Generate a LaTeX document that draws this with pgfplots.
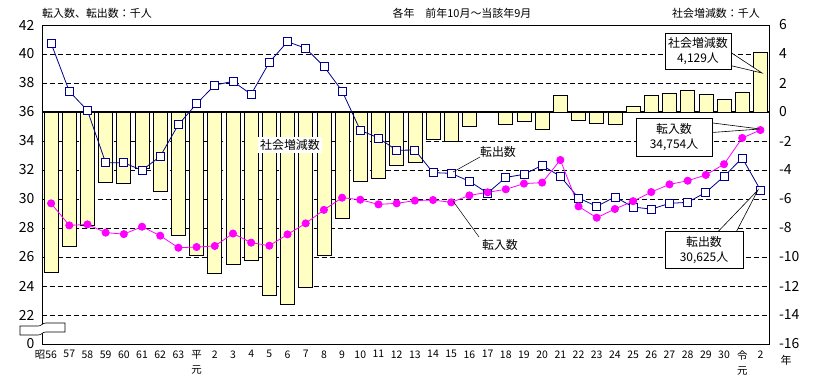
\documentclass[border=0pt]{standalone}
\usepackage{fontspec}
\setmainfont{Noto Sans CJK JP}
\usepackage{pgfplots}
\usepackage{pgfplotstable}
\pgfplotsset{compat=1.18}
\usetikzlibrary{calc}
\definecolor{barfill}{RGB}{255,255,196}
\definecolor{outc}{RGB}{0,0,140}
\definecolor{inc}{RGB}{255,0,255}

\pgfplotstableread{
x out in net
0 40.74 29.70 -11.05
1 37.43 28.18 -9.25
2 36.10 28.25 -7.85
3 32.50 27.68 -4.82
4 32.50 27.58 -4.92
5 31.98 28.09 -3.89
6 32.94 27.47 -5.47
7 35.13 26.64 -8.49
8 36.57 26.69 -9.88
9 37.86 26.76 -11.10
10 38.11 27.62 -10.49
11 37.22 26.99 -10.23
12 39.43 26.78 -12.65
13 40.85 27.56 -13.29
14 40.39 28.32 -12.07
15 39.15 29.25 -9.90
16 37.45 30.09 -7.36
17 34.74 29.95 -4.79
18 34.21 29.63 -4.58
19 33.36 29.70 -3.66
20 33.38 29.89 -3.49
21 31.82 29.93 -1.89
22 31.77 29.77 -2.00
23 31.22 30.25 -0.97
24 30.41 30.46 0.05
25 31.49 30.67 -0.82
26 31.70 31.06 -0.64
27 32.32 31.13 -1.19
28 31.56 32.69 1.13
29 30.07 29.49 -0.58
30 29.49 28.71 -0.78
31 30.14 29.31 -0.83
32 29.45 29.85 0.40
33 29.30 30.48 1.18
34 29.70 31.01 1.31
35 29.77 31.26 1.49
36 30.46 31.66 1.20
37 31.56 32.40 0.84
38 32.83 34.21 1.38
39 30.625 34.754 4.129
}\datatable

\begin{document}
\begin{tikzpicture}
\begin{axis}[
  name=bx,
  width=727.5bp, height=319bp, scale only axis,
  xmin=-0.5, xmax=39.5, ymin=-16, ymax=6,
  ytick={-16,-14,...,6},
  yticklabel pos=right,
  xtick=\empty,
  ymajorgrids,
  grid style={black, dash pattern=on 5bp off 3bp, line width=0.6pt},
  major tick length=0,
  extra y ticks={0},
  extra y tick labels={},
  extra y tick style={grid style={solid, line width=1.8pt, black}},
  ticklabel style={font=\fontsize{14}{14}\selectfont},
  yticklabel style={xshift=6bp},
  /pgf/number format/assume math mode=true,
  axis line style={line width=0.8pt},
  ybar, bar width=14bp,
]
\addplot[fill=barfill, draw=black, line width=0.7pt] table[x=x, y=net]{\datatable};
\end{axis}
\begin{axis}[
  name=ax,
  width=727.5bp, height=319bp, scale only axis,
  xmin=-0.5, xmax=39.5, ymin=20, ymax=42,
  ytick={20,22,...,42},
  yticklabels={0,22,24,26,28,30,32,34,36,38,40,42},
  xtick={0,...,39},
  xticklabels={\llap{昭}56,57,58,59,60,61,62,63,平\\元,2,3,4,5,6,7,8,9,10,11,12,13,14,15,16,17,18,19,20,21,22,23,24,25,26,27,28,29,30,令\\元,2},
  major tick length=0,
  axis line style={line width=0.8pt},
  yticklabel style={font=\fontsize{14}{14}\selectfont, xshift=-4bp},
  xticklabel style={font=\fontsize{10.5}{15}\selectfont, align=center, anchor=north, yshift=-3bp},
]
\addplot[outc, line width=0.8pt, mark=square*, mark size=4bp, mark options={fill=white, draw=outc, line width=0.8pt}] table[x=x, y=out]{\datatable};
\addplot[inc, line width=0.8pt, mark=*, mark size=3.6bp, mark options={fill=inc, draw=inc}] table[x=x, y=in]{\datatable};
\end{axis}
\begin{scope}[shift={($(ax.south west)+(-42bp,344bp)$)}, x=1bp, y=-1bp]
\path[use as bounding box] (0,0) rectangle (823,379);
\node[anchor=west, font=\fontsize{11}{11}\selectfont, inner sep=0] at (42,13) {転入数、転出数：千人};
\node[font=\fontsize{11}{11}\selectfont, inner sep=0] at (462,13) {各年　前年10月～当該年9月};
\node[anchor=east, font=\fontsize{11}{11}\selectfont, inner sep=0] at (760,13) {社会増減数：千人};
\node[font=\fontsize{11}{11}\selectfont, inner sep=0] at (786,360) {年};
% axis break
\draw[fill=white, line width=0.6pt] (20,326) -- (38,326) .. controls (42,326) and (42,323) .. (46,323) -- (65,323) -- (65,332) -- (46,332) .. controls (42,332) and (42,335) .. (38,335) -- (20,335) -- cycle;
% labels
\node[fill=white, font=\fontsize{12}{12}\selectfont, inner sep=2bp] at (290,145) {社会増減数};
\draw[line width=0.5pt] (453,172) -- (480,157);
\node[font=\fontsize{12}{12}\selectfont, inner sep=1bp] at (498,152) {転出数};
\draw[line width=0.5pt] (453,201) -- (479,237);
\node[font=\fontsize{12}{12}\selectfont, inner sep=1bp] at (500,245) {転入数};
% callouts
\draw[fill=white, line width=0.6pt] (724,48) -- (762,73) -- (724,64) -- cycle;
\node[draw, fill=white, line width=0.6pt, minimum width=66bp, minimum height=36bp, align=center, inner sep=1bp, font=\fontsize{12}{15}\selectfont] at (698,51) {社会増減数\\4,129人};
\draw[fill=white, line width=0.6pt] (705,122) -- (760,129) -- (705,133) -- cycle;
\node[draw, fill=white, line width=0.6pt, minimum width=76bp, minimum height=38bp, align=center, inner sep=1bp, font=\fontsize{12}{15}\selectfont] at (674,137) {転入数\\34,754人};
\draw[fill=white, line width=0.6pt] (710,240) -- (758,190) -- (732,240) -- cycle;
\node[draw, fill=white, line width=0.6pt, minimum width=78bp, minimum height=37bp, align=center, inner sep=1bp, font=\fontsize{12}{15}\selectfont] at (704,250) {転出数\\30,625人};
\end{scope}
\end{tikzpicture}
\end{document}
